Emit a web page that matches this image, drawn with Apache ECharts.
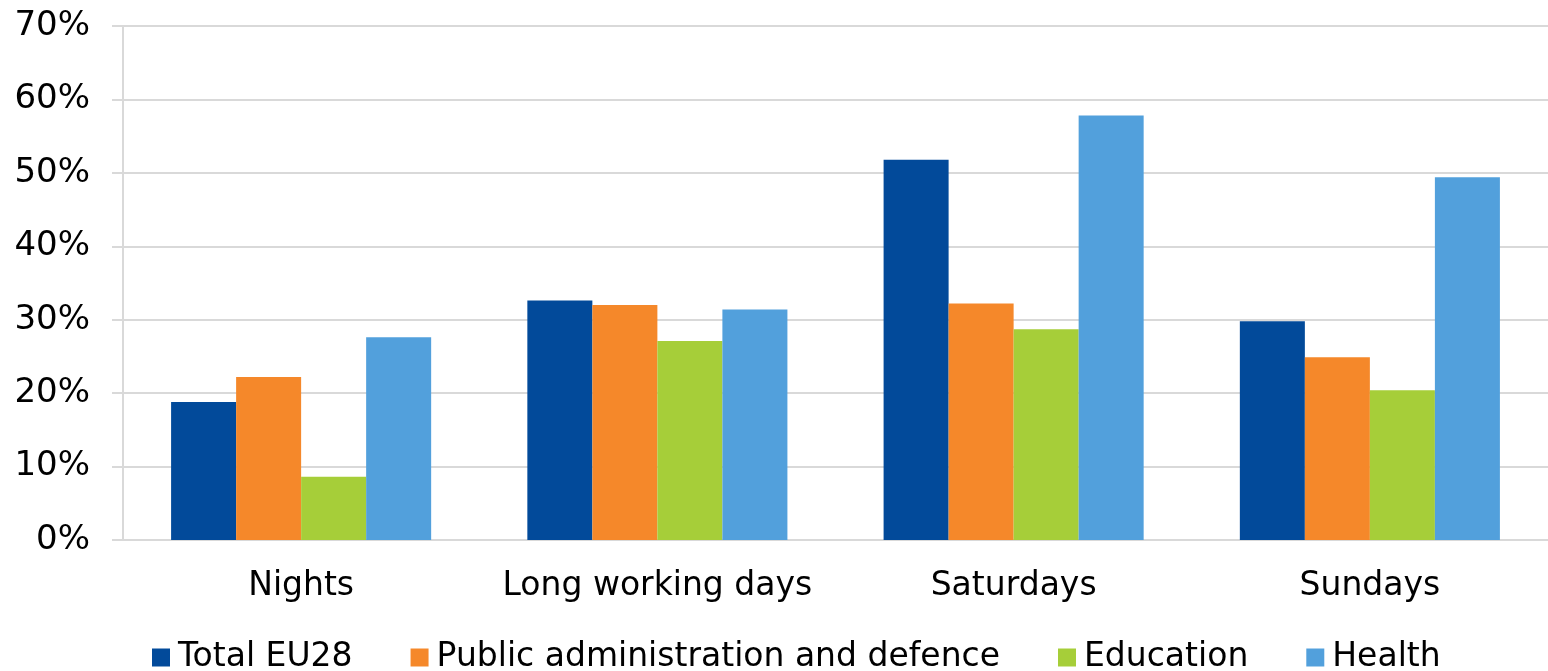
<!DOCTYPE html>
<html><head><meta charset="utf-8">
<script src="https://cdn.jsdelivr.net/npm/echarts@6/dist/echarts.min.js"></script>
<style>html,body{margin:0;padding:0;background:#fff}#c{width:1548px;height:671px}</style>
</head><body><div id="c"></div>
<script>
const categories = ['Nights', 'Long working days', 'Saturdays', 'Sundays'];
const seriesNames = ['Total EU28', 'Public administration and defence', 'Education', 'Health'];
const totalEU28 = [18.8, 32.6, 51.8, 29.8];
const publicAdmin = [22.2, 32.0, 32.2, 24.9];
const education = [8.6, 27.1, 28.7, 20.4];
const health = [27.6, 31.4, 57.8, 49.4];
const yTicks = [0, 10, 20, 30, 40, 50, 60, 70];
const colors = ['#024a9a', '#f5882a', '#a6ce39', '#52a0dc'];
const values = [totalEU28, publicAdmin, education, health];
const font = 'DejaVu Sans, Verdana, sans-serif';
const chart = echarts.init(document.getElementById('c'));
chart.setOption({
  animation: false,
  color: colors,
  grid: {left: 123, right: 0, top: 26, bottom: 131, containLabel: false},
  legend: {
    top: 636, left: 147, itemWidth: 18, itemHeight: 18, itemGap: 58,
    icon: 'rect',
    textStyle: {fontFamily: font, fontSize: 33, color: '#000', padding: [0, 0, 0, 3]},
    data: seriesNames
  },
  xAxis: {
    type: 'category', data: categories,
    axisLine: {lineStyle: {color: '#d9d9d9', width: 2}},
    axisTick: {show: false},
    axisLabel: {fontFamily: font, fontSize: 33, color: '#000', margin: 30, interval: 0}
  },
  yAxis: {
    type: 'value', min: yTicks[0], max: yTicks[yTicks.length - 1], interval: 10,
    axisLine: {show: true, lineStyle: {color: '#d9d9d9', width: 2}},
    axisTick: {show: true, length: 11, lineStyle: {color: '#d9d9d9', width: 2}},
    splitLine: {lineStyle: {color: '#d9d9d9', width: 2}},
    axisLabel: {fontFamily: font, fontSize: 34, color: '#000', margin: 33, formatter: v => v + '%'}
  },
  series: values.map((d, i) => ({
    name: seriesNames[i], type: 'bar', data: d,
    barGap: '0%', barCategoryGap: '27%',
    itemStyle: {color: colors[i]}
  }))
});
</script></body></html>
